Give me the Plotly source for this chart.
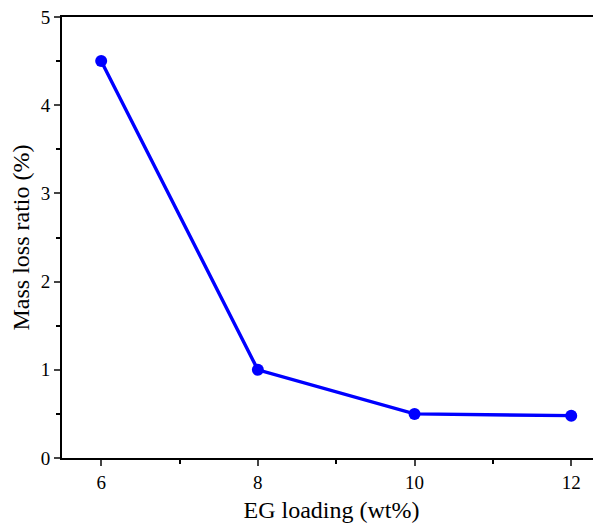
import plotly.graph_objects as go

eg_loading = [6, 8, 10, 12]
mass_loss = [4.5, 1.0, 0.5, 0.48]
x_ticks = [6, 8, 10, 12]
y_ticks = [0, 1, 2, 3, 4, 5]

fig = go.Figure()
fig.add_trace(go.Scatter(
    x=eg_loading, y=mass_loss, mode="lines+markers",
    line=dict(color="#0000FF", width=3.4),
    marker=dict(color="#0000FF", size=12),
    showlegend=False, cliponaxis=False,
))

font = "Liberation Serif, Times New Roman, serif"
fig.update_layout(
    width=601, height=527,
    margin=dict(l=54, r=8, t=9, b=77),
    plot_bgcolor="white", paper_bgcolor="white",
    font=dict(family=font, color="black", size=19),
)
fig.update_xaxes(
    range=[5.5, 12.38], tickvals=x_ticks, ticks="outside", ticklen=6, tickwidth=2,
    showline=True, linecolor="black", linewidth=2, mirror=True, showgrid=False, zeroline=False,
    minor=dict(tickvals=[7, 9, 11], ticks="outside", ticklen=4, tickwidth=2, tickcolor="black"),
    title=dict(text="EG loading (wt%)", font=dict(size=24), standoff=9),
    tickfont=dict(size=19), automargin=False, ticklabeloverflow="allow",
)
fig.update_yaxes(
    range=[0, 5], tickvals=y_ticks, ticks="outside", ticklen=6, tickwidth=2,
    showline=True, linecolor="black", linewidth=2, mirror=False, showgrid=False, zeroline=False,
    minor=dict(tickvals=[0.5, 1.5, 2.5, 3.5, 4.5], ticks="outside", ticklen=4, tickwidth=2, tickcolor="black"),
    title=dict(text="Mass loss ratio (%)", font=dict(size=24), standoff=8),
    tickfont=dict(size=19), automargin=False, ticklabeloverflow="allow",
)
fig.write_html("out.html")
